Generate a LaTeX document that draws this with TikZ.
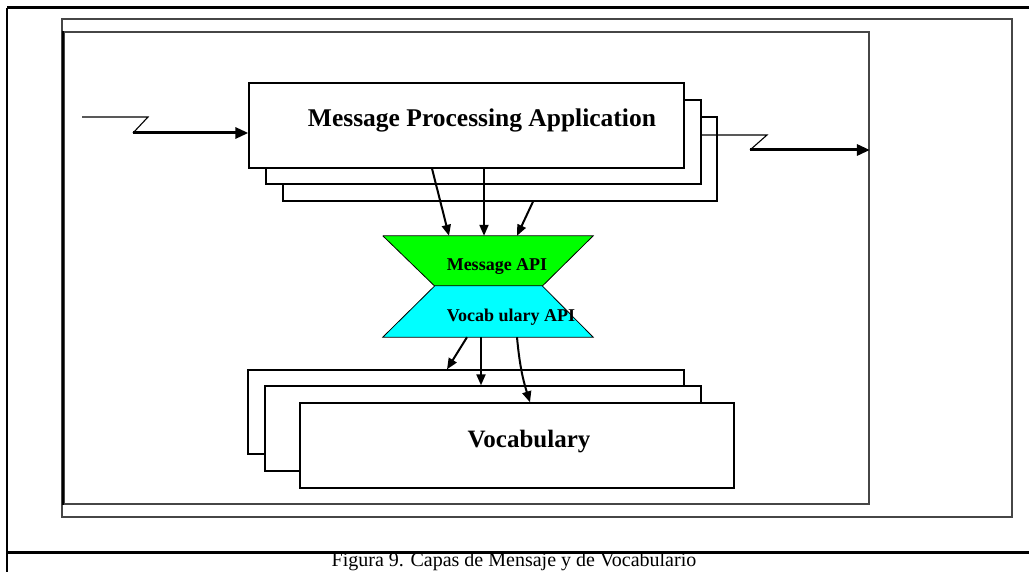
\documentclass[tikz,border=0pt]{standalone}
\usepackage{fontspec}
\setmainfont{Liberation Serif}
\usetikzlibrary{arrows.meta}
\definecolor{apigreen}{RGB}{0,255,0}
\definecolor{apicyan}{RGB}{0,255,255}
\definecolor{framegray}{RGB}{70,70,70}
\tikzset{
  box/.style={draw=black, line width=1.3pt, fill=white, inner sep=0pt},
  zone/.style={inner sep=0pt},
  frameline/.style={line width=3pt, black},
  panel/.style={draw=framegray, line width=1.8pt},
  arr/.style={line width=2pt, -{Triangle[length=11pt,width=9pt]}},
  bigarr/.style={line width=3pt, -{Triangle[length=13pt,width=11pt]}},
  thin/.style={line width=1.1pt},
  apiedge/.style={draw=black, line width=0.8pt},
  lbl/.style={inner sep=0pt, anchor=base}
}
\begin{document}
\begin{tikzpicture}[x=1pt,y=-1pt]
\useasboundingbox (0,0) rectangle (1029,572);
\fill[white] (0,0) rectangle (1029,572);
% page frame
\draw[frameline] (1029,8) -- (7,8);
\draw[line width=2.5pt] (7,8) -- (7,572);
\draw[frameline] (7,552) -- (1029,552);
% panels
\node[panel, zone, minimum width=950pt, minimum height=498pt] (outer) at (537,268) {};
\node[panel, zone, minimum width=805pt, minimum height=472pt] (inner) at (466.5,268) {};
\draw[line width=2.2pt] (inner.north west) -- (inner.south west);
% message processing application stack
\node[box, minimum width=434pt, minimum height=84pt] (mpa3) at (500,159) {};
\node[box, minimum width=435pt, minimum height=84pt] (mpa2) at (483.5,142) {};
\node[box, minimum width=435pt, minimum height=85pt] (mpa1) at (466.5,125.5) {};
\node[lbl, font=\bfseries\fontsize{25.5}{30}\selectfont] (mpatext) at (482,127) {Message Processing Application};
% input arrow
\coordinate (in0) at (82,117);
\coordinate (in1) at (148,117);
\coordinate (in2) at (133,133);
\draw[thin] (in0) -- (in1) -- (in2);
\draw[bigarr] (in2) -- ([yshift=-7.5pt]mpa1.west);
% output arrow
\coordinate (out1) at (767,135);
\coordinate (out2) at (750,150);
\draw[thin] ([yshift=7pt]mpa2.east) -- (out1) -- (out2);
\draw[bigarr] (out2) -- ([yshift=118pt]inner.east);
% APIs
\node[zone, minimum width=210pt, minimum height=50pt] (msgapi) at (488,261) {};
\node[zone, minimum width=210pt, minimum height=51pt] (vocapi) at (488,311.5) {};
\fill[apigreen] (msgapi.north west) -- (msgapi.north east) -- ([xshift=-51pt]msgapi.south east) -- ([xshift=52pt]msgapi.south west) -- cycle;
\draw[apiedge] (msgapi.north west) -- (msgapi.north east) -- ([xshift=-51pt]msgapi.south east);
\draw[apiedge] ([xshift=52pt]msgapi.south west) -- (msgapi.north west);
\fill[apicyan] ([xshift=52pt]vocapi.north west) -- ([xshift=-51pt]vocapi.north east) -- (vocapi.south east) -- (vocapi.south west) -- cycle;
\draw[apiedge] ([xshift=52pt]vocapi.north west) -- ([xshift=-51pt]vocapi.north east) -- (vocapi.south east) -- (vocapi.south west) -- cycle;
\node[lbl, font=\bfseries\fontsize{18}{21}\selectfont] (msgtext) at (497,271) {Message API};
\node[lbl, font=\bfseries\fontsize{18}{21}\selectfont] (voctext) at (511,322) {Vocab ulary API};
% arrows into Message API
\draw[arr] ([xshift=-34.5pt]mpa1.south) -- ([xshift=-39pt]msgapi.north);
\draw[arr] ([xshift=17.5pt]mpa1.south) -- ([xshift=-4pt]msgapi.north);
\draw[arr] ([xshift=33pt]mpa3.south) -- ([xshift=29pt]msgapi.north);
% vocabulary stack
\node[box, minimum width=436pt, minimum height=84pt] (voc1) at (466,412) {};
\node[box, minimum width=436pt, minimum height=85pt] (voc2) at (483,428.5) {};
\node[box, minimum width=434pt, minimum height=85pt] (voc3) at (517,445.5) {};
\node[lbl, font=\bfseries\fontsize{25}{30}\selectfont] (voctitle) at (529,447) {Vocabulary};
% arrows out of Vocabulary API
\draw[arr] ([xshift=-21pt]vocapi.south) -- ([xshift=-19pt]voc1.north);
\draw[arr] ([xshift=-7pt]vocapi.south) -- ([xshift=-2pt]voc2.north);
\draw[arr] ([xshift=29pt]vocapi.south) to[bend right=6] ([xshift=13pt]voc3.north);
% caption
\node[lbl, font=\fontsize{20}{24}\selectfont] (caption) at (514,566) {Figura 9. Capas de Mensaje y de Vocabulario};
\end{tikzpicture}
\end{document}
